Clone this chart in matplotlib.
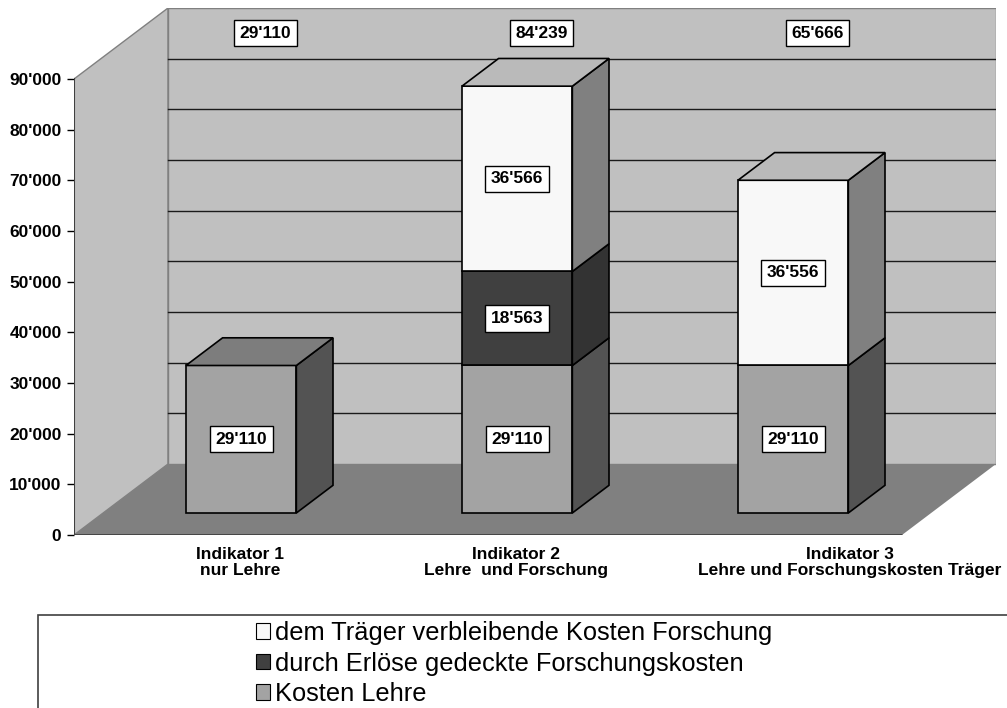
import matplotlib

matplotlib.use("Agg")
import matplotlib.pyplot as plt
from matplotlib.patches import Patch, Polygon, Rectangle

plt.rcParams["font.family"] = ["Liberation Sans", "DejaVu Sans"]

# data
categories = [
    "Indikator 1\nnur Lehre",
    "Indikator 2\nLehre  und Forschung",
    "Indikator 3\nLehre und Forschungskosten Träger",
]
series_names = [
    "Kosten Lehre",
    "durch Erlöse gedeckte Forschungskosten",
    "dem Träger verbleibende Kosten Forschung",
]
kosten_lehre = [29110, 29110, 29110]
erloese_forschung = [0, 18563, 0]
traeger_forschung = [0, 36566, 36556]
y_ticks = [0, 10000, 20000, 30000, 40000, 50000, 60000, 70000, 80000, 90000]

series_values = [kosten_lehre, erloese_forschung, traeger_forschung]
# front, top, side shades for each series
series_colors = [
    ("#a3a3a3", "#7d7d7d", "#535353"),
    ("#404040", "#383838", "#333333"),
    ("#f8f8f8", "#bababa", "#808080"),
]

# fake 3d geometry: depth offset in data units, bar placement in depth
DEPTH_X = 0.3406
DEPTH_Y = 14012
Z_FRONT, Z_BACK = 0.31, 0.70
BAR_W = 0.4
Y_TOP = y_ticks[-1]


def fmt(v):
    return f"{v:,}".replace(",", "'")


def proj(x, y, z):
    return (x + z * DEPTH_X, y + z * DEPTH_Y)


fig = plt.figure(figsize=(10.07, 7.08), dpi=100)
W, H = 1007, 708
ax = fig.add_axes([74 / W, 1 - 535 / H, (996 - 74) / W, (535 - 8) / H])
n = len(categories)
ax.set_xlim(0, n + DEPTH_X)
ax.set_ylim(0, Y_TOP + DEPTH_Y)
for s in ax.spines.values():
    s.set_visible(False)
ax.set_xticks([])

# walls and floor
wall = "#c0c0c0"
ax.add_patch(Polygon([proj(0, 0, 0), proj(0, Y_TOP, 0), proj(0, Y_TOP, 1), proj(0, 0, 1)],
                     closed=True, fc=wall, ec="#808080", lw=1, zorder=1))
ax.add_patch(Polygon([proj(0, 0, 1), proj(0, Y_TOP, 1), proj(n, Y_TOP, 1), proj(n, 0, 1)],
                     closed=True, fc=wall, ec="#808080", lw=1, zorder=1))
ax.add_patch(Polygon([proj(0, 0, 0), proj(n, 0, 0), proj(n, 0, 1), proj(0, 0, 1)],
                     closed=True, fc="#808080", ec="none", zorder=1))
ax.plot([0, n], [0, 0], color="#404040", lw=2, zorder=2, solid_capstyle="butt")
ax.plot([0, 0], [0, Y_TOP], color="#404040", lw=1.5, zorder=2)

# gridlines on back wall
for t in y_ticks[1:-1]:
    x0, y0 = proj(0, t, 1)
    x1, y1 = proj(n, t, 1)
    ax.plot([x0, x1], [y0, y1], color="#1a1a1a", lw=1, zorder=2)

label_box = dict(boxstyle="square,pad=0.32", fc="white", ec="black", lw=1)

# stacked boxes
for i in range(n):
    xl = i + 0.5 - BAR_W / 2
    xr = i + 0.5 + BAR_W / 2
    base = 0
    seg = [(k, series_values[k][i]) for k in range(len(series_values)) if series_values[k][i] > 0]
    for j, (k, v) in enumerate(seg):
        top = base + v
        front_c, top_c, side_c = series_colors[k]
        kw = dict(closed=True, ec="black", lw=1.2, zorder=3)
        ax.add_patch(Polygon([proj(xl, base, Z_FRONT), proj(xr, base, Z_FRONT),
                              proj(xr, top, Z_FRONT), proj(xl, top, Z_FRONT)], fc=front_c, **kw))
        ax.add_patch(Polygon([proj(xr, base, Z_FRONT), proj(xr, base, Z_BACK),
                              proj(xr, top, Z_BACK), proj(xr, top, Z_FRONT)], fc=side_c, **kw))
        if j == len(seg) - 1:
            ax.add_patch(Polygon([proj(xl, top, Z_FRONT), proj(xr, top, Z_FRONT),
                                  proj(xr, top, Z_BACK), proj(xl, top, Z_BACK)], fc=top_c, **kw))
        lx, ly = proj(i + 0.5, (base + top) / 2, Z_FRONT)
        ax.text(lx, ly, fmt(v), ha="center", va="center", fontsize=12.5, fontweight="bold",
                zorder=5, bbox=label_box)
        base = top
    # total above the wall
    tx, _ = proj(i + 0.5, 0, 0.57)
    ax.text(tx, 99000, fmt(base), ha="center", va="center", fontsize=12.5, fontweight="bold",
            zorder=5, bbox=label_box)

# category labels
for i, lab in enumerate(categories):
    cx, _ = proj(i + 0.5, 0, 0.3)
    ha = "center"
    if i == n - 1:
        cx, ha = n + DEPTH_X + 0.02, "right"
    ax.text(cx, -2400, lab, ha=ha, multialignment="center", va="top", fontsize=12.5,
            fontweight="bold", linespacing=1.1, clip_on=False)

# y axis
ax.set_yticks(y_ticks, [fmt(t) for t in y_ticks])
ax.tick_params(axis="y", length=5, width=1, color="black", pad=4, labelsize=12.5)
for lbl in ax.get_yticklabels():
    lbl.set_fontweight("bold")

# legend box (runs off the right and bottom edge)
fig.patches.append(Rectangle((38 / W, -0.02), 1.0, (708 - 615) / H + 0.02,
                             transform=fig.transFigure, fill=False, ec="#404040", lw=1.2))
handles = [Patch(fc=series_colors[k][0], ec="black", lw=0.8) for k in (2, 1, 0)]
labels = [series_names[k] for k in (2, 1, 0)]
fig.legend(handles, labels, loc="upper left", bbox_to_anchor=(256 / W, 1 - 621 / H),
           frameon=False, fontsize=18.3, handlelength=0.56, handleheight=0.56,
           handletextpad=0.2, labelspacing=0.26, borderpad=0, borderaxespad=0)

fig.savefig("out.png", dpi=100)
